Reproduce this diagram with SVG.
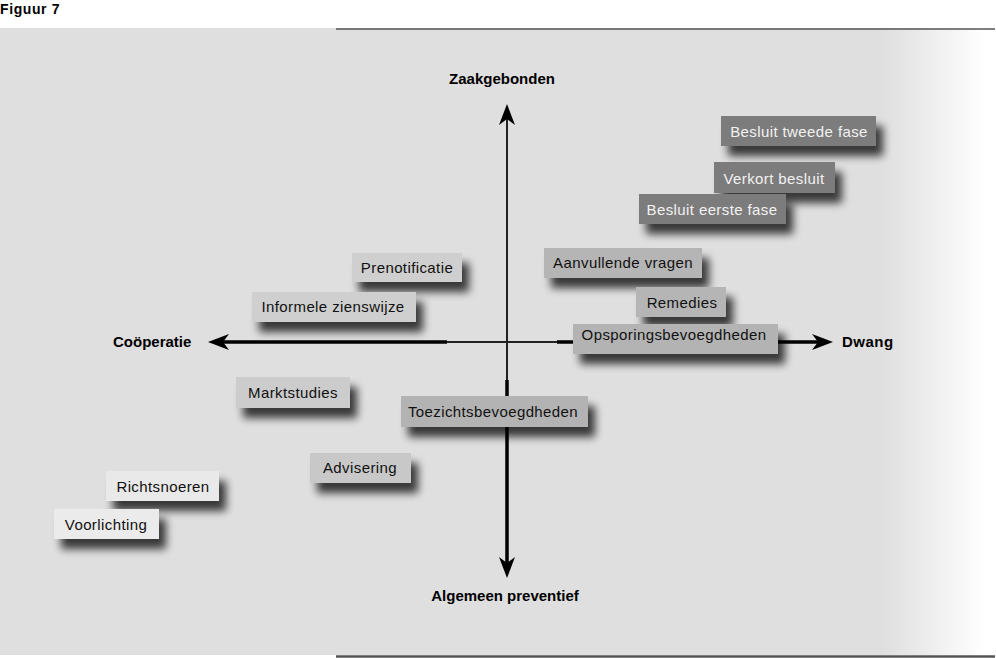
<svg xmlns="http://www.w3.org/2000/svg" width="996" height="658" viewBox="0 0 996 658">
<style>
  .t { font-family: "Liberation Sans", Arial, sans-serif; font-size: 15px; letter-spacing: 0.4px; text-anchor: middle; fill: #111; }
  .tw { fill: #f2f2f2; }
  .ax { font-family: "Liberation Sans", Arial, sans-serif; font-size: 15px; font-weight: bold; fill: #000; }
  .box { filter: url(#sh); }
  .thick { stroke: #000; stroke-width: 3.5; fill: none; }
  .thin { stroke: #222; stroke-width: 2; fill: none; }
</style>
<defs>
  <linearGradient id="fade" x1="0" y1="0" x2="1" y2="0">
    <stop offset="0" stop-color="#dfdfdf"/>
    <stop offset="1" stop-color="#ffffff"/>
  </linearGradient>
  <filter id="sh" x="-20%" y="-40%" width="150%" height="220%">
    <feGaussianBlur in="SourceAlpha" stdDeviation="4"/>
    <feOffset dx="7" dy="10" result="b"/>
    <feComponentTransfer><feFuncA type="linear" slope="0.75"/></feComponentTransfer>
    <feMerge><feMergeNode/><feMergeNode in="SourceGraphic"/></feMerge>
  </filter>
  <path id="ah" d="M0,0 L-21,-8 L-15,0 L-21,8 Z" fill="#000"/>
</defs>

<rect x="0" y="0" width="996" height="658" fill="#ffffff"/>
<rect x="0" y="28" width="884" height="627" fill="#dfdfdf"/>
<rect x="883" y="28" width="102" height="627" fill="url(#fade)"/>
<line x1="336" y1="29" x2="995" y2="29" stroke="#555" stroke-width="1.5"/>
<line x1="336" y1="656.5" x2="995" y2="656.5" stroke="#555" stroke-width="2.5"/>

<text x="0" y="14" class="ax" style="font-size:14px;letter-spacing:0.6px">Figuur 7</text>

<g id="axis-labels">
  <text x="502" y="84" class="ax" text-anchor="middle">Zaakgebonden</text>
  <text x="505" y="601" class="ax" text-anchor="middle">Algemeen preventief</text>
  <text x="113" y="347" class="ax">Coöperatie</text>
  <text x="842" y="347" class="ax" style="letter-spacing:0.5px">Dwang</text>
</g>

<g id="connectors">
  <line class="thick" x1="222" y1="342" x2="447" y2="342"/>
  <line class="thin" x1="447" y1="342" x2="557" y2="342"/>
  <line class="thick" x1="557" y1="342" x2="818" y2="342"/>
  <line class="thin" x1="507" y1="118" x2="507" y2="380"/>
  <line class="thick" x1="507" y1="380" x2="507" y2="564"/>
  <use href="#ah" transform="translate(833,342)"/>
  <use href="#ah" transform="translate(208,342) rotate(180)"/>
  <use href="#ah" transform="translate(507,104) rotate(-90)"/>
  <use href="#ah" transform="translate(507,578) rotate(90)"/>
</g>

<g id="n-besluit-tweede-fase">
  <rect class="box" x="721" y="116" width="155" height="30" fill="#7b7b7b"/>
  <text class="t tw" x="799" y="137">Besluit tweede fase</text>
</g>
<g id="n-verkort-besluit">
  <rect class="box" x="714" y="162" width="121" height="31" fill="#7b7b7b"/>
  <text class="t tw" x="774" y="184">Verkort besluit</text>
</g>
<g id="n-besluit-eerste-fase">
  <rect class="box" x="639" y="194" width="147" height="30" fill="#7b7b7b"/>
  <text class="t tw" x="712" y="215">Besluit eerste fase</text>
</g>
<g id="n-aanvullende-vragen">
  <rect class="box" x="544" y="248" width="158" height="30" fill="#b5b5b5"/>
  <text class="t" x="623" y="268">Aanvullende vragen</text>
</g>
<g id="n-remedies">
  <rect class="box" x="636" y="287" width="90" height="30" fill="#b5b5b5"/>
  <text class="t" x="682" y="308">Remedies</text>
</g>
<g id="n-opsporingsbevoegdheden">
  <rect class="box" x="573" y="324" width="205" height="30" fill="#b3b3b3"/>
  <text class="t" x="674" y="340">Opsporingsbevoegdheden</text>
</g>
<g id="n-prenotificatie">
  <rect class="box" x="352" y="253" width="110" height="29" fill="#cfcfcf"/>
  <text class="t" x="407" y="273">Prenotificatie</text>
</g>
<g id="n-informele-zienswijze">
  <rect class="box" x="252" y="292" width="164" height="30" fill="#cfcfcf"/>
  <text class="t" x="333" y="312">Informele zienswijze</text>
</g>
<g id="n-marktstudies">
  <rect class="box" x="236" y="377" width="114" height="31" fill="#cccccc"/>
  <text class="t" x="293" y="398">Marktstudies</text>
</g>
<g id="n-toezichtsbevoegdheden">
  <rect class="box" x="401" y="396" width="187" height="31" fill="#b3b3b3"/>
  <text class="t" x="493" y="417">Toezichtsbevoegdheden</text>
</g>
<g id="n-advisering">
  <rect class="box" x="310" y="453" width="101" height="30" fill="#c8c8c8"/>
  <text class="t" x="360" y="473">Advisering</text>
</g>
<g id="n-richtsnoeren">
  <rect class="box" x="106" y="471" width="113" height="30" fill="#e9e9e9"/>
  <text class="t" x="163" y="492">Richtsnoeren</text>
</g>
<g id="n-voorlichting">
  <rect class="box" x="54" y="509" width="105" height="30" fill="#ebebeb"/>
  <text class="t" x="106" y="530">Voorlichting</text>
</g>
</svg>
